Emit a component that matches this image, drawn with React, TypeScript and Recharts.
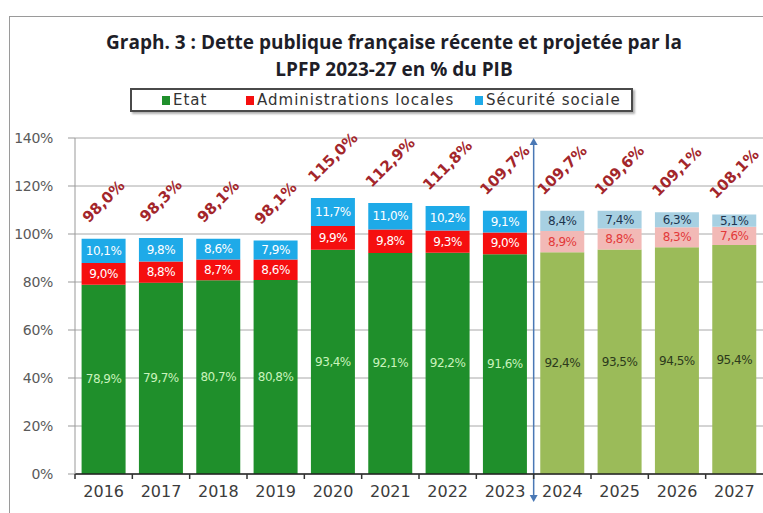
import {
  BarChart,
  Bar,
  Cell,
  XAxis,
  YAxis,
  CartesianGrid,
  LabelList,
  Legend,
  ReferenceLine,
} from "recharts";

const YEARS = ["2016", "2017", "2018", "2019", "2020", "2021", "2022", "2023", "2024", "2025", "2026", "2027"];
const ETAT = [78.9, 79.7, 80.7, 80.8, 93.4, 92.1, 92.2, 91.6, 92.4, 93.5, 94.5, 95.4];
const ADMIN_LOCALES = [9.0, 8.8, 8.7, 8.6, 9.9, 9.8, 9.3, 9.0, 8.9, 8.8, 8.3, 7.6];
const SECU = [10.1, 9.8, 8.6, 7.9, 11.7, 11.0, 10.2, 9.1, 8.4, 7.4, 6.3, 5.1];
const TOTALS = [98.0, 98.3, 98.1, 98.1, 115.0, 112.9, 111.8, 109.7, 109.7, 109.6, 109.1, 108.1];
const FIRST_PROJECTED = "2024";
const Y_TICKS = [0, 20, 40, 60, 80, 100, 120, 140];

const data = YEARS.map((year, i) => ({
  year,
  etat: ETAT[i],
  admin: ADMIN_LOCALES[i],
  secu: SECU[i],
  total: TOTALS[i],
  projected: Number(year) >= Number(FIRST_PROJECTED),
}));

// colours: [historique, projection]
const FILL = {
  etat: ["#1f8f2b", "#9bbb59"],
  admin: ["#f50f0f", "#f2b9b6"],
  secu: ["#1eaae8", "#a7d0e2"],
};
const TEXT = {
  etat: ["#c9f3bc", "#2c3a1c"],
  admin: ["#ffffff", "#e23a3a"],
  secu: ["#ffffff", "#1d3550"],
};

const LEGEND_ITEMS = [
  { label: "Etat", color: "#1f8f2b", left: 30 },
  { label: "Administrations locales", color: "#f50f0f", left: 114 },
  { label: "Sécurité sociale", color: "#1eaae8", left: 343 },
];

const fmt = (v: number) => v.toFixed(1).replace(".", ",") + "%";

function segmentLabel(key: "etat" | "admin" | "secu") {
  return (props: any) => {
    const { x, y, width, height, index, value } = props;
    const proj = data[index]?.projected ? 1 : 0;
    return (
      <text
        x={x + width / 2}
        y={y + height / 2}
        textAnchor="middle"
        dominantBaseline="central"
        fontFamily="DejaVu Sans"
        fontSize={12}
        letterSpacing={-0.5}
        fill={TEXT[key][proj]}
      >
        {fmt(Number(value))}
      </text>
    );
  };
}

function TotalLabel(props: any) {
  const { x, y, width, index } = props;
  const txt = fmt(data[index].total);
  const len = txt.length * 9.6;
  const cx = x + width / 2;
  const cy = y - 16 - 0.354 * (len + 12);
  return (
    <text
      x={cx}
      y={cy}
      textAnchor="middle"
      dominantBaseline="central"
      transform={`rotate(-45 ${cx} ${cy})`}
      fontFamily="DejaVu Sans"
      fontWeight="bold"
      fontSize={15}
      fill="#a3262b"
    >
      {txt}
    </text>
  );
}

function YearTick(props: any) {
  const { x, y, payload } = props;
  const half = payload?.offset ?? 28.7;
  return (
    <g>
      <line x1={x - half} x2={x - half} y1={y - 8} y2={y - 3} stroke="#333" strokeWidth={1.5} />
      <text x={x} y={y + 9} textAnchor="middle" dominantBaseline="central" fontFamily="DejaVu Sans" fontSize={16} fill="#3c3c3c">
        {payload.value}
      </text>
    </g>
  );
}

function SplitArrow(props: any) {
  const { x1, y1, y2 } = props;
  const top = Math.min(y1, y2);
  const bottom = Math.max(y1, y2) + 28;
  const c = "#4a78b5";
  return (
    <g>
      <line x1={x1} x2={x1} y1={top + 4} y2={bottom - 4} stroke={c} strokeWidth={1.5} />
      <path d={`M${x1 - 4},${top + 7} L${x1},${top} L${x1 + 4},${top + 7} Z`} fill={c} />
      <path d={`M${x1 - 4},${bottom - 7} L${x1},${bottom} L${x1 + 4},${bottom - 7} Z`} fill={c} />
    </g>
  );
}

function LegendBox() {
  return (
    <div
      style={{
        position: "relative",
        width: 499,
        height: 20,
        border: "2px solid #4a4a4a",
        boxShadow: "2px 2px 2px #b0b0b0",
        fontFamily: "DejaVu Sans",
        fontSize: 15,
        letterSpacing: 1,
        color: "#333",
        background: "#fff",
      }}
    >
      {LEGEND_ITEMS.map((it) => (
        <span
          key={it.label}
          style={{ position: "absolute", left: it.left, top: 0, height: 20, display: "flex", alignItems: "center", whiteSpace: "nowrap" }}
        >
          <span style={{ width: 8, height: 9, background: it.color, marginRight: 3 }} />
          {it.label}
        </span>
      ))}
    </div>
  );
}

export default function App() {
  return (
    <div style={{ position: "relative", width: 763, height: 513, overflow: "hidden", background: "#fff" }}>
      <style>{`body{margin:0}`}</style>
      <div
        style={{
          position: "absolute",
          left: 9,
          top: 16,
          width: 820,
          height: 600,
          border: "1.5px solid #9a9a9a",
        }}
      />
      <BarChart
        width={763}
        height={513}
        data={data}
        margin={{ top: 114, right: 0, bottom: 0, left: 8 }}
        barCategoryGap="11.5%"
      >
        <CartesianGrid vertical={false} stroke="#a8a8a8" />
        <XAxis
          dataKey="year"
          height={39}
          axisLine={{ stroke: "#222", strokeWidth: 1.5 }}
          tickLine={false}
          tick={<YearTick />}
          interval={0}
        />
        <YAxis
          width={67}
          domain={[0, 140]}
          ticks={Y_TICKS}
          tickFormatter={(v) => `${v}%`}
          axisLine={{ stroke: "#999" }}
          tickLine={{ stroke: "#999" }}
          tickSize={7}
          tickMargin={15}
          tick={{ fontFamily: "DejaVu Sans", fontSize: 14, fill: "#5a5a5a", letterSpacing: -0.3 }}
        />
        <Legend
          verticalAlign="top"
          content={() => <LegendBox />}
          wrapperStyle={{ position: "absolute", top: 88, left: 130, width: 503 }}
        />
        <Bar dataKey="etat" name="Etat" stackId="a" isAnimationActive={false}>
          {data.map((d) => (
            <Cell key={d.year} fill={FILL.etat[d.projected ? 1 : 0]} />
          ))}
          <LabelList dataKey="etat" content={segmentLabel("etat")} />
        </Bar>
        <Bar dataKey="admin" name="Administrations locales" stackId="a" isAnimationActive={false}>
          {data.map((d) => (
            <Cell key={d.year} fill={FILL.admin[d.projected ? 1 : 0]} />
          ))}
          <LabelList dataKey="admin" content={segmentLabel("admin")} />
        </Bar>
        <Bar dataKey="secu" name="Sécurité sociale" stackId="a" isAnimationActive={false}>
          {data.map((d) => (
            <Cell key={d.year} fill={FILL.secu[d.projected ? 1 : 0]} />
          ))}
          <LabelList dataKey="secu" content={segmentLabel("secu")} />
          <LabelList dataKey="total" content={<TotalLabel />} />
        </Bar>
        <ReferenceLine x={FIRST_PROJECTED} position="start" ifOverflow="visible" shape={<SplitArrow />} />
      </BarChart>
      <div
        style={{
          position: "absolute",
          top: 29,
          left: 0,
          width: 788,
          textAlign: "center",
          fontFamily: "Open Sans",
          fontWeight: "bold",
          fontSize: 19,
          lineHeight: "27px",
          letterSpacing: 0,
          color: "#1e1e28",
        }}
      >
        Graph. 3 : Dette publique française récente et projetée par la
        <br />
        LPFP 2023-27 en % du PIB
      </div>
    </div>
  );
}
